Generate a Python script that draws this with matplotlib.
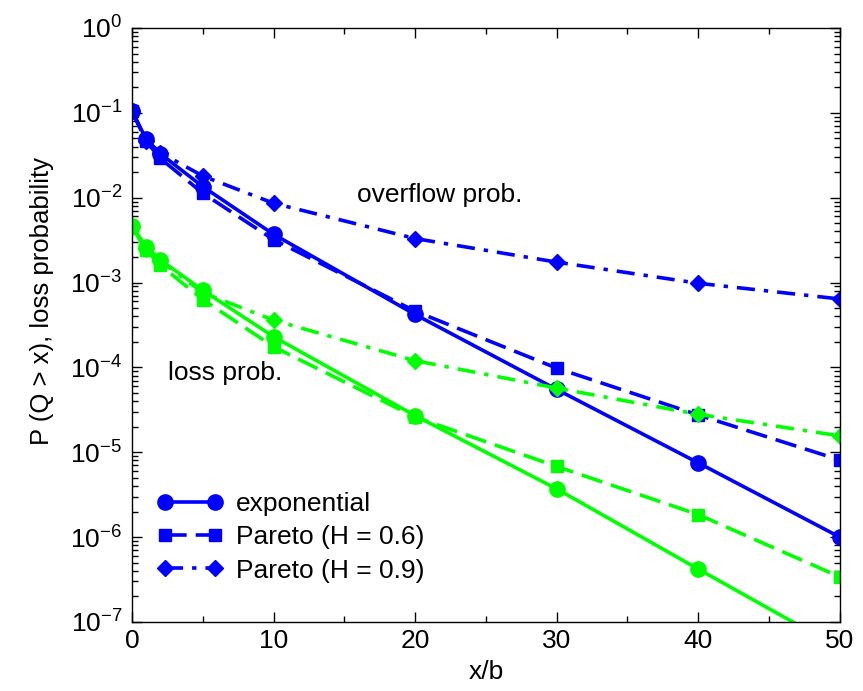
import matplotlib
matplotlib.use("Agg")
import matplotlib.pyplot as plt
from matplotlib.ticker import FixedLocator, MultipleLocator, NullFormatter

plt.rcParams["font.family"] = ["Liberation Sans", "DejaVu Sans"]
plt.rcParams["mathtext.fontset"] = "custom"
plt.rcParams["mathtext.rm"] = "Liberation Sans"

x = [0, 1, 2, 5, 10, 20, 30, 40, 50]

# overflow probability P(Q > x)
ovf_exp = [0.105, 0.049, 0.033, 0.0135, 0.0037, 4.2e-4, 5.5e-5, 7.5e-6, 1.0e-6]
ovf_p06 = [0.105, 0.046, 0.029, 0.0113, 0.0032, 4.6e-4, 9.8e-5, 2.75e-5, 8.1e-6]
ovf_p09 = [0.105, 0.047, 0.034, 0.018, 0.0086, 3.3e-3, 1.74e-3, 9.8e-4, 6.4e-4]

# loss probability
loss_exp = [0.0046, 0.00265, 0.00185, 8.1e-4, 2.3e-4, 2.7e-5, 3.7e-6, 4.2e-7, 4.9e-8]
loss_p06 = [0.0045, 0.0024, 0.0016, 6.3e-4, 1.75e-4, 2.6e-5, 6.8e-6, 1.84e-6, 3.4e-7]
loss_p09 = [0.0045, 0.0025, 0.0018, 7.6e-4, 3.6e-4, 1.2e-4, 5.7e-5, 2.8e-5, 1.56e-5]

labels = ["exponential", "Pareto (H = 0.6)", "Pareto (H = 0.9)"]
decades = range(-7, 1)

blue = "#0000ff"
green = "#00ff00"
fs = 19
styles = [
    dict(linestyle="-", marker="o", markersize=11),
    dict(linestyle=(0, (6, 2.5)), marker="s", markersize=9),
    dict(linestyle=(0, (5, 2.5, 1.2, 2.5)), marker="D", markersize=8),
]

fig = plt.figure(figsize=(8.63, 6.91), dpi=100)
ax = fig.add_axes([0.153, 0.1, 0.82, 0.8595])

handles = []
for ys, lab, st in zip([ovf_exp, ovf_p06, ovf_p09], labels, styles):
    h, = ax.plot(x, ys, color=blue, linewidth=2.6, label=lab, **st)
    handles.append(h)
for ys, st in zip([loss_exp, loss_p06, loss_p09], styles):
    ax.plot(x, ys, color=green, linewidth=2.6, **st)

ax.set_yscale("log")
ax.set_xlim(0, 50)
ax.set_ylim(1e-7, 1)
ax.xaxis.set_major_locator(MultipleLocator(10))
ax.xaxis.set_minor_locator(MultipleLocator(5))
ax.yaxis.set_major_locator(FixedLocator([10.0 ** k for k in decades]))
ax.yaxis.set_minor_locator(FixedLocator(
    [m * 10.0 ** k for k in decades[:-1] for m in range(2, 10)]))
ax.yaxis.set_minor_formatter(NullFormatter())
ax.tick_params(which="both", direction="in", top=True, right=True, labelsize=fs)
ax.tick_params(which="major", length=7, width=1)
ax.tick_params(which="minor", length=4, width=1)
ax.tick_params(axis="x", pad=5)
ax.tick_params(axis="y", pad=7)
for s in ax.spines.values():
    s.set_linewidth(1)

ax.set_xlabel("x/b", fontsize=fs)
ax.xaxis.set_label_coords(0.5, -0.064)
ax.set_ylabel("P (Q > x), loss probability", fontsize=18.5)
ax.yaxis.set_label_coords(-0.11, 0.54)

ax.text(15.9, 10 ** -1.967, "overflow prob.", fontsize=fs, va="center")
ax.text(2.56, 10 ** -4.067, "loss prob.", fontsize=fs, va="center")

ax.legend(handles=handles, loc="lower left", bbox_to_anchor=(0.035, 0.066),
          frameon=False, fontsize=fs, numpoints=2, handlelength=2.5,
          handletextpad=0.5, labelspacing=0.35, borderaxespad=0, borderpad=0)

fig.savefig("out.png", dpi=100)
